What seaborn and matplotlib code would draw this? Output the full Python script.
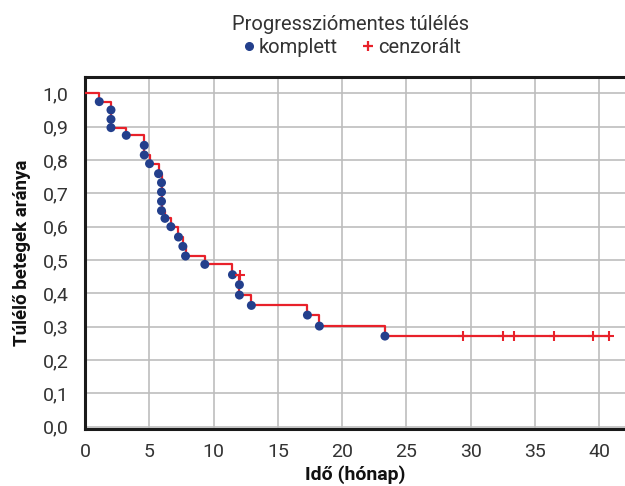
import matplotlib
matplotlib.use("Agg")
import matplotlib.pyplot as plt
import seaborn as sns
import pandas as pd
from matplotlib.lines import Line2D
from matplotlib.ticker import MultipleLocator, FuncFormatter

# Event times (months) and survival after each event
event_times = [1.11, 2.02, 2.02, 2.02, 3.21, 4.61, 4.61, 5.02, 5.72, 5.95, 5.95, 5.95, 5.95,
               6.22, 6.68, 7.27, 7.61, 7.82, 9.32, 11.47, 12.01, 12.01, 12.94, 17.30, 18.23, 23.33]
event_surv = [0.975, 0.950, 0.922, 0.897, 0.874, 0.844, 0.815, 0.789, 0.759, 0.732, 0.704, 0.676, 0.648,
              0.625, 0.600, 0.569, 0.541, 0.512, 0.487, 0.456, 0.426, 0.395, 0.364, 0.335, 0.302, 0.272]
# Censored observations
censor_times = [12.07, 29.37, 32.53, 33.33, 36.49, 39.52, 40.74]
censor_surv = [0.456, 0.272, 0.272, 0.272, 0.272, 0.272, 0.272]

title = "Progressziómentes túlélés"
label_event = "komplett"
label_censor = "cenzorált"
xlabel = "Idő (hónap)"
ylabel = "Túlélő betegek aránya"

RED = "#e8212a"
BLUE = "#233f8c"
GRID = "#bdbdbd"
TXT = "#333333"

sns.set_theme(style="white")
plt.rcParams["font.family"] = ["Roboto", "DejaVu Sans"]

fig = plt.figure(figsize=(6.25, 4.86), dpi=100)
ax = fig.add_axes([0.136, 0.117, 0.864, 0.724])

step_df = pd.DataFrame({
    "t": [0.0] + event_times + [censor_times[-1]],
    "s": [1.0] + event_surv + [event_surv[-1]],
})
sns.lineplot(data=step_df, x="t", y="s", ax=ax, drawstyle="steps-post", color=RED,
             linewidth=1.6, estimator=None, sort=False, zorder=3)

ev_df = pd.DataFrame({"t": event_times, "s": event_surv})
sns.scatterplot(data=ev_df, x="t", y="s", ax=ax, color=BLUE, s=42, edgecolor="none",
                zorder=4)

ce_df = pd.DataFrame({"t": censor_times, "s": censor_surv})
sns.scatterplot(data=ce_df, x="t", y="s", ax=ax, color=RED, marker="+", s=55,
                linewidth=1.5, zorder=5)

ax.set_xlim(0, 42)
ax.set_ylim(-0.007, 1.048)
ax.xaxis.set_major_locator(MultipleLocator(5))
ax.yaxis.set_major_locator(MultipleLocator(0.1))
ax.yaxis.set_major_formatter(FuncFormatter(lambda v, p: f"{v:.1f}".replace(".", ",")))
ax.grid(True, color=GRID, linewidth=1.2)
ax.set_axisbelow(True)

for side in ["left", "bottom", "top"]:
    ax.spines[side].set_color("#1a1a1a")
    ax.spines[side].set_linewidth(2.2)
ax.spines["right"].set_visible(False)

ax.tick_params(axis="both", length=0, labelsize=14, colors=TXT)
ax.tick_params(axis="x", pad=10)
ax.tick_params(axis="y", pad=12)
ax.set_xlabel(xlabel, fontsize=14, fontweight="bold", color="#111111", labelpad=3)
ax.set_ylabel(ylabel, fontsize=13.5, fontweight="bold", color="#111111", labelpad=8)

handles = [
    Line2D([], [], linestyle="none", marker="o", color=BLUE, markersize=5.5),
    Line2D([], [], linestyle="none", marker="+", color=RED, markersize=7, markeredgewidth=1.6),
]
leg = fig.legend(handles, [label_event, label_censor], title=title, ncol=2, frameon=False,
                 loc="center", bbox_to_anchor=(0.56, 0.925), fontsize=14.5, title_fontsize=14.5,
                 handletextpad=0.0, columnspacing=1.0, handlelength=1.0, borderpad=0.1,
                 labelspacing=0.2)
for t in leg.get_texts():
    t.set_color(TXT)
leg.get_title().set_color(TXT)

fig.savefig("out.png", dpi=100)
